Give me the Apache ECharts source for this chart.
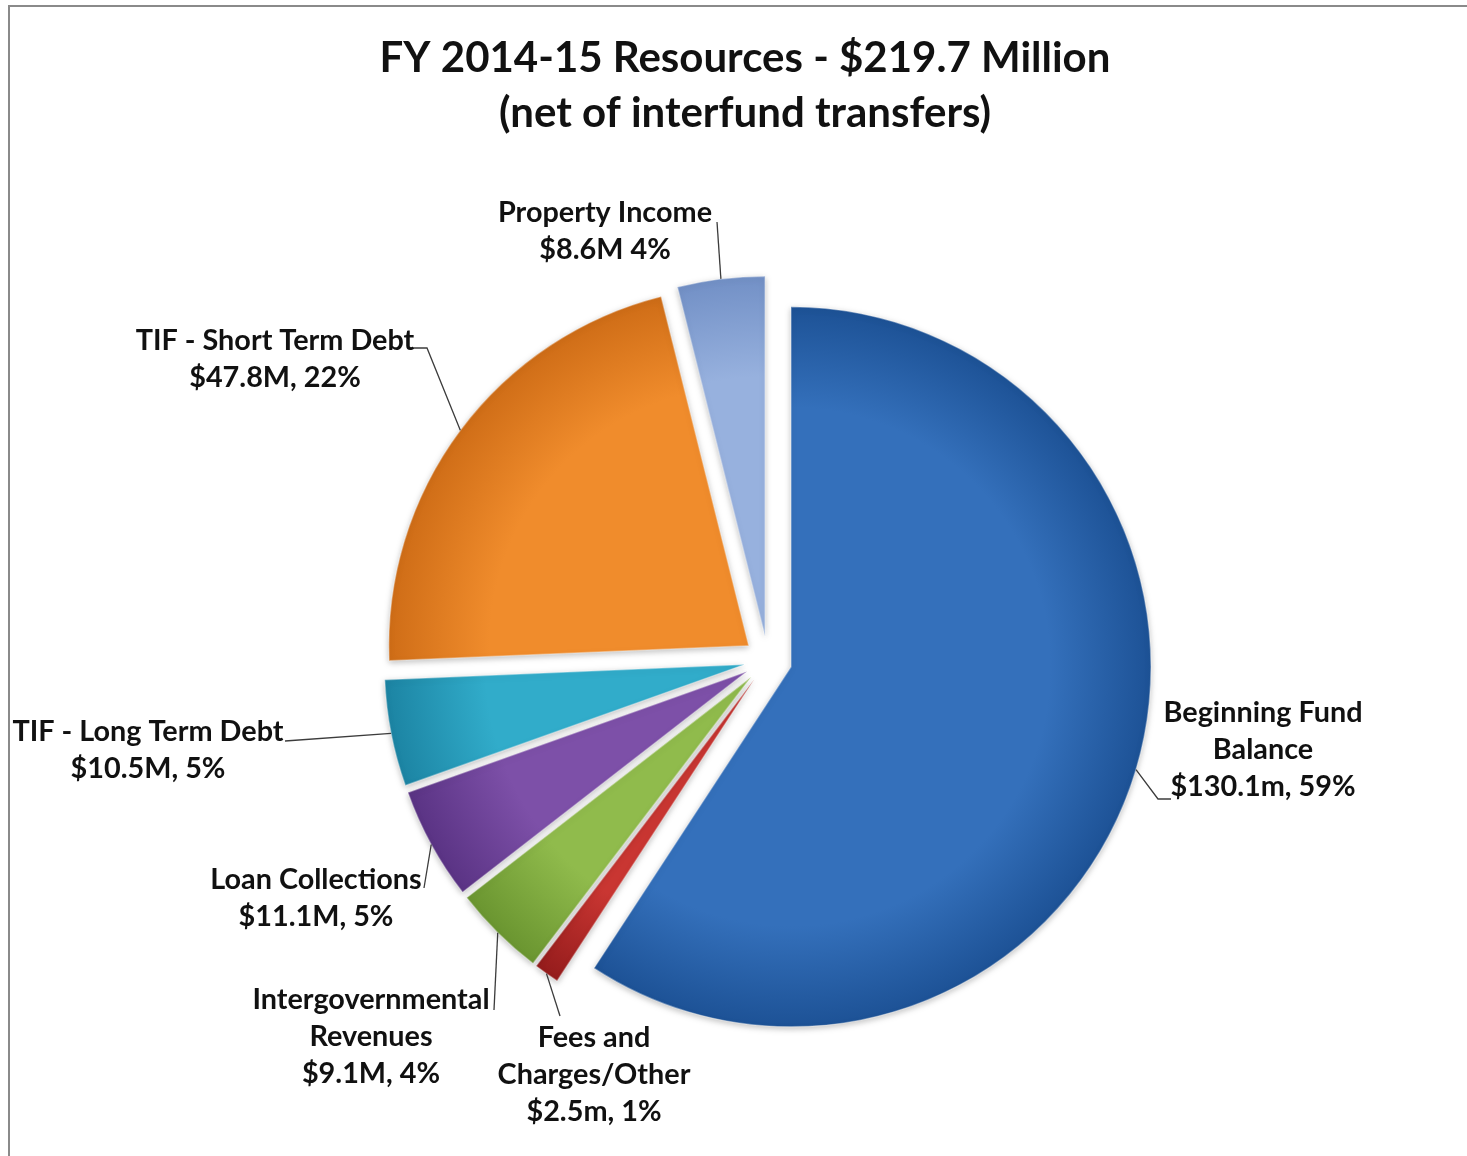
<!DOCTYPE html>
<html>
<head>
<meta charset="utf-8">
<title>FY 2014-15 Resources</title>
<script src="https://cdn.jsdelivr.net/npm/echarts@6/dist/echarts.min.js"></script>
<style>
  html, body { margin: 0; padding: 0; background: #ffffff; overflow: hidden; }
  #frame {
    position: absolute; left: 8px; top: 5px; width: 1600px; height: 1300px;
    border-left: 2px solid #8a8a8a; border-top: 2px solid #8a8a8a;
  }
  #chart { position: absolute; left: 0; top: 0; width: 1467px; height: 1156px; }
</style>
</head>
<body>
<div id="frame"></div>
<div id="chart"></div>
<script>
// Resource categories, clockwise from 12 o'clock
const categories = [
  'Beginning Fund\nBalance',
  'Fees and\nCharges/Other',
  'Intergovernmental\nRevenues',
  'Loan Collections',
  'TIF - Long Term Debt',
  'TIF - Short Term Debt',
  'Property Income'
];
// Amounts in millions of dollars
const amounts = [130.1, 2.5, 9.1, 11.1, 10.5, 47.8, 8.6];
// How each amount is written in its label
const unitSuffix = ['m', 'm', 'M', 'M', 'M', 'M', 'M'];
const valueSeparator = [', ', ', ', ', ', ', ', ', ', ', ', ' '];

const titleLines = ['FY 2014-15 Resources - $219.7 Million', '(net of interfund transfers)'];

// Slice fills: [inner tone, rim tone]
const sliceTones = [
  ['#3470bb', '#1d5296'],
  ['#c93632', '#951c1c'],
  ['#90bb4c', '#6a9530'],
  ['#7d50a8', '#5a3384'],
  ['#31acca', '#1c84a3'],
  ['#f08c2c', '#cf6d17'],
  ['#97b1de', '#7290c6']
];

// Pie geometry
const PIE_CENTER = [768, 660];
const PIE_RADIUS = 360;
const EXPLODE = 24;

// Label block centres
const labelSpots = [
  [1263, 750],
  [594, 1075],
  [371, 1037],
  [316, 898],
  [148, 750],
  [275, 359],
  [605, 231]
];
// Leader line bends, from the slice rim towards the label
const leaderBends = [
  [[1158, 799], [1171, 799]],
  [[560, 1016]],
  [[494, 1010]],
  [[424, 888]],
  [[285, 741]],
  [[427, 348], [413, 348]],
  [[717, 222]]
];

const LABEL_FONT = 'bold 28.8px Lato, "Open Sans", sans-serif';

const total = amounts.reduce((a, b) => a + b, 0);

// Rim point of each (exploded) slice at its middle angle
let running = 0;
const rimPoints = amounts.map(v => {
  const mid = (running + v / 2) / total * Math.PI * 2;
  running += v;
  const d = PIE_RADIUS + EXPLODE;
  return [PIE_CENTER[0] + d * Math.sin(mid), PIE_CENTER[1] - d * Math.cos(mid)];
});

function labelText(i) {
  return categories[i] + '\n$' + amounts[i].toFixed(1) + unitSuffix[i] +
    valueSeparator[i] + Math.round(amounts[i] / total * 100) + '%';
}

function sliceFill(i) {
  const t = sliceTones[i];
  return {
    type: 'radial', global: true,
    x: PIE_CENTER[0], y: PIE_CENTER[1], r: PIE_RADIUS,
    colorStops: [
      { offset: 0, color: t[0] },
      { offset: 0.72, color: t[0] },
      { offset: 1, color: t[1] }
    ]
  };
}

const pieData = categories.map((name, i) => ({
  name: name,
  value: amounts[i],
  selected: true,
  itemStyle: {
    color: sliceFill(i),
    borderColor: 'rgba(255,255,255,0.35)',
    borderWidth: 1.5
  }
}));

const titleGraphics = titleLines.map((line, k) => ({
  type: 'text',
  x: 745,
  y: 58 + k * 55,
  style: {
    text: line,
    fill: '#111111',
    font: 'bold 42px Lato, "Open Sans", sans-serif',
    textAlign: 'center',
    textVerticalAlign: 'middle'
  }
}));

const leaderGraphics = rimPoints.map((p, i) => ({
  type: 'polyline',
  z: 5,
  shape: { points: [p].concat(leaderBends[i]) },
  style: { stroke: '#3c3c3c', lineWidth: 1.3, fill: null }
}));

const labelGraphics = labelSpots.map((s, i) => ({
  type: 'text',
  z: 6,
  x: s[0],
  y: s[1],
  style: {
    text: labelText(i),
    fill: '#111111',
    font: LABEL_FONT,
    lineHeight: 37,
    textAlign: 'center',
    textVerticalAlign: 'middle'
  }
}));

const chart = echarts.init(document.getElementById('chart'), null, { renderer: 'canvas' });

chart.setOption({
  animation: false,
  backgroundColor: 'transparent',
  graphic: titleGraphics.concat(leaderGraphics, labelGraphics),
  series: [{
    type: 'pie',
    center: PIE_CENTER,
    radius: PIE_RADIUS,
    startAngle: 90,
    clockwise: true,
    selectedMode: 'multiple',
    selectedOffset: EXPLODE,
    emphasis: { disabled: true },
    itemStyle: {
      shadowBlur: 6,
      shadowColor: 'rgba(0,0,0,0.25)',
      shadowOffsetY: 2
    },
    label: { show: false },
    labelLine: { show: false },
    data: pieData
  }]
});
</script>
</body>
</html>
